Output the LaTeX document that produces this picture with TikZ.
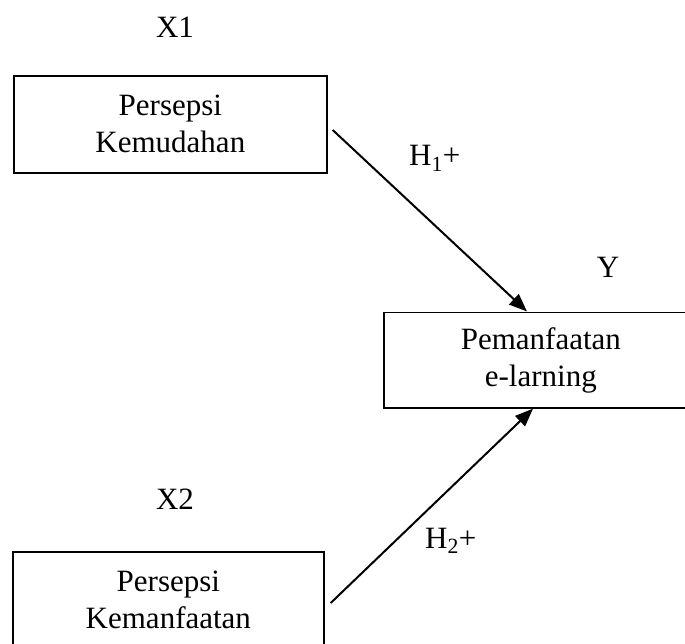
\documentclass[tikz,border=0pt]{standalone}
\usepackage{fontspec}
\setmainfont{Liberation Serif}
\usetikzlibrary{arrows.meta,calc}
\begin{document}
\begin{tikzpicture}[x=1pt,y=-1pt,
  box/.style={draw,line width=1.7pt,rectangle,inner sep=0pt,align=center,anchor=north west,
    font=\fontsize{31}{37}\selectfont},
  lbl/.style={inner sep=0pt,font=\fontsize{31}{37}\selectfont},
  conn/.style={line width=2pt,-{Triangle[length=18pt,width=14pt]}}]
\useasboundingbox (0,0) rectangle (685,644);
\clip (0,0) rectangle (685,644);
\node[box,minimum width=313pt,minimum height=97pt] (x1) at (13,75) {Persepsi\\Kemudahan};
\node[box,minimum width=314pt,minimum height=95.5pt] (y) at (383,311.5) {Pemanfaatan\\e-larning};
\node[box,minimum width=311pt,minimum height=97pt] (x2) at (12,551) {Persepsi\\Kemanfaatan};
\node[lbl,anchor=base] (lx1) at (175,38) {X1};
\node[lbl,anchor=base] (lx2) at (175,509) {X2};
\node[lbl,anchor=base] (ly) at (608,277) {Y};
\node[lbl,anchor=base west] (h1) at (409,166) {H\textsubscript{1}+};
\node[lbl,anchor=base west] (h2) at (425,548) {H\textsubscript{2}+};
\coordinate (s1) at ($(x1.north east)+(5,55)$);
\coordinate (e1) at ($(y.north west)+(144,0)$);
\coordinate (s2) at ($(x2.north east)+(6,52)$);
\coordinate (e2) at ($(y.south west)+(150,0)$);
\draw[conn] (s1) -- (e1);
\draw[conn] (s2) -- (e2);
\end{tikzpicture}
\end{document}
